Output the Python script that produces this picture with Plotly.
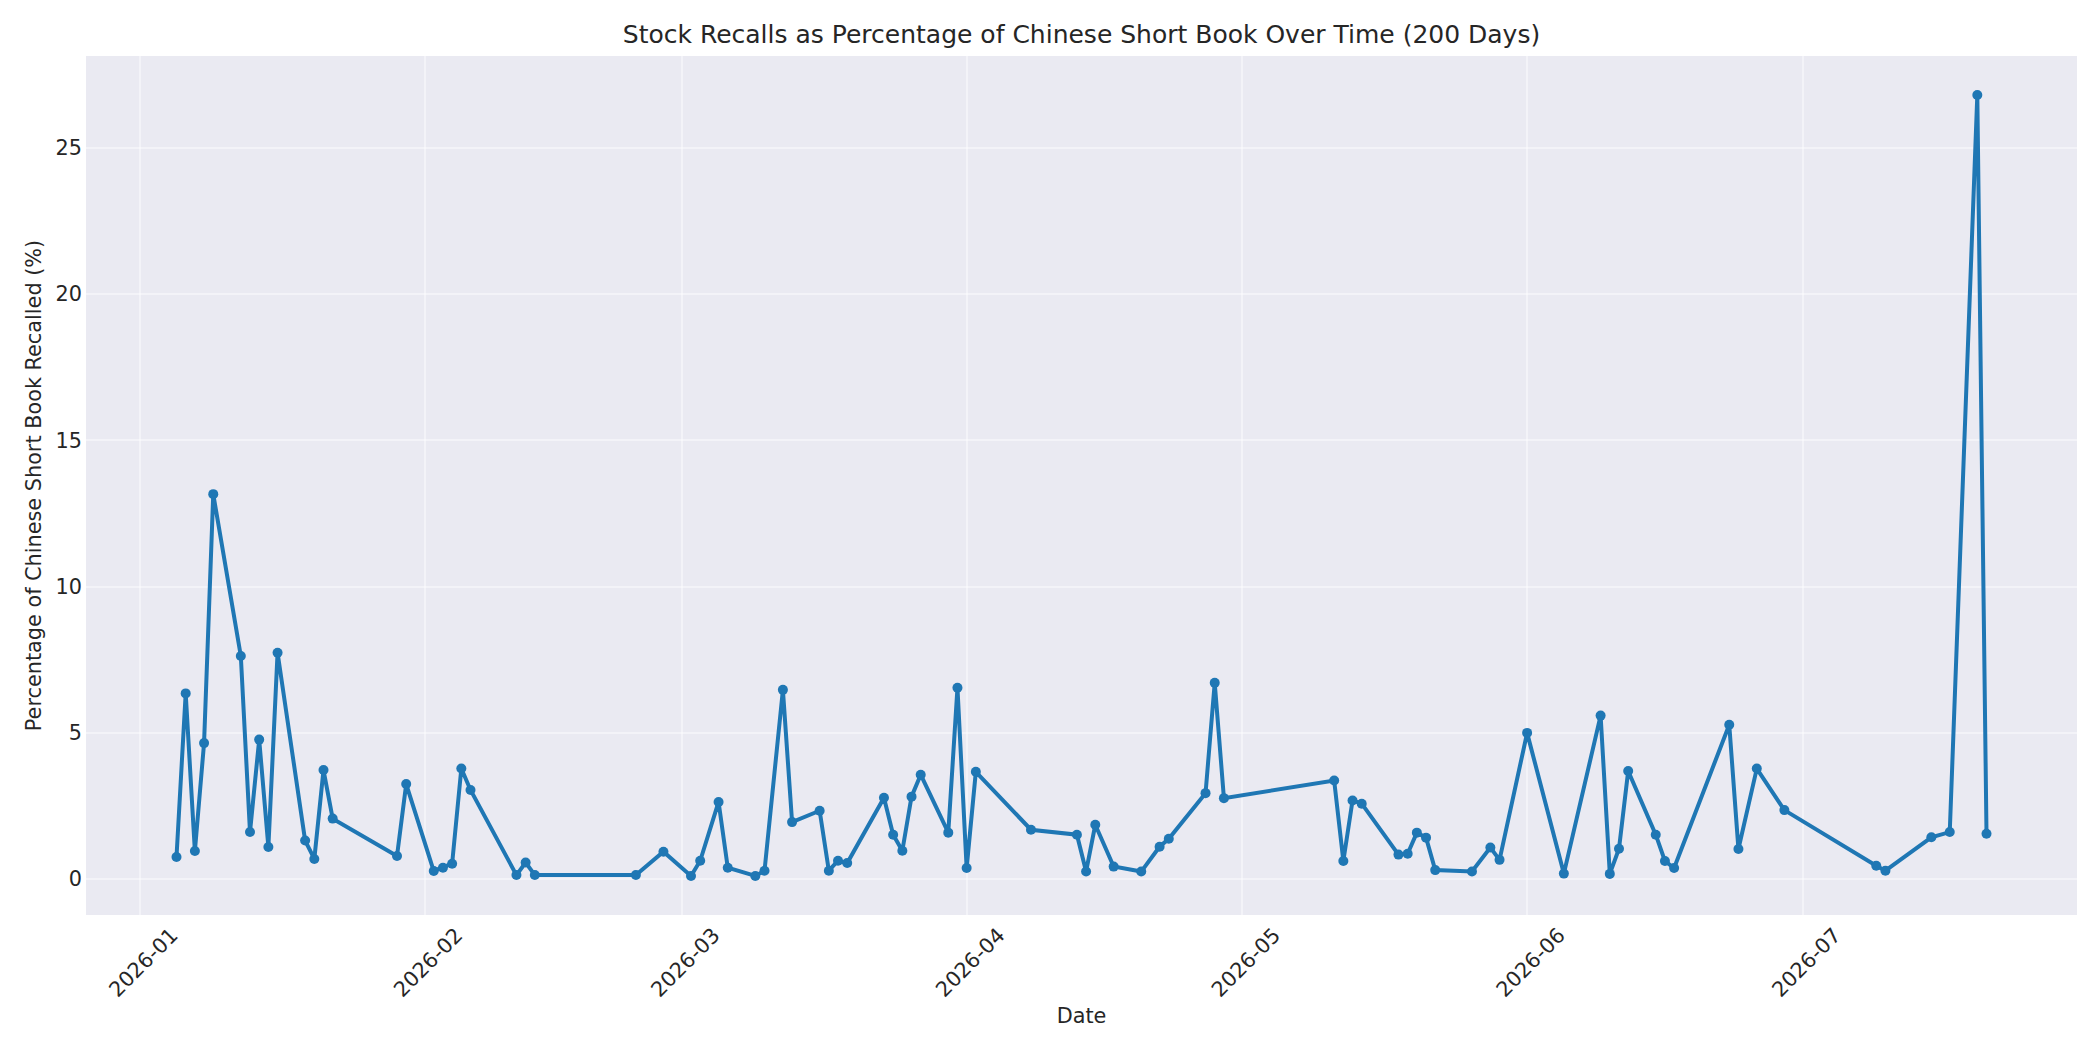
import pandas as pd
import plotly.graph_objects as go

dates = [
    "2026-01-05", "2026-01-06", "2026-01-07", "2026-01-08", "2026-01-09",
    "2026-01-12", "2026-01-13", "2026-01-14", "2026-01-15", "2026-01-16",
    "2026-01-19", "2026-01-20", "2026-01-21", "2026-01-22", "2026-01-29",
    "2026-01-30", "2026-02-02", "2026-02-03", "2026-02-04", "2026-02-05",
    "2026-02-06", "2026-02-11", "2026-02-12", "2026-02-13", "2026-02-24",
    "2026-02-27", "2026-03-02", "2026-03-03", "2026-03-05", "2026-03-06",
    "2026-03-09", "2026-03-10", "2026-03-12", "2026-03-13", "2026-03-16",
    "2026-03-17", "2026-03-18", "2026-03-19", "2026-03-23", "2026-03-24",
    "2026-03-25", "2026-03-26", "2026-03-27", "2026-03-30", "2026-03-31",
    "2026-04-01", "2026-04-02", "2026-04-08", "2026-04-13", "2026-04-14",
    "2026-04-15", "2026-04-17", "2026-04-20", "2026-04-22", "2026-04-23",
    "2026-04-27", "2026-04-28", "2026-04-29", "2026-05-11", "2026-05-12",
    "2026-05-13", "2026-05-14", "2026-05-18", "2026-05-19", "2026-05-20",
    "2026-05-21", "2026-05-22", "2026-05-26", "2026-05-28", "2026-05-29",
    "2026-06-01", "2026-06-05", "2026-06-09", "2026-06-10", "2026-06-11",
    "2026-06-12", "2026-06-15", "2026-06-16", "2026-06-17", "2026-06-23",
    "2026-06-24", "2026-06-26", "2026-06-29", "2026-07-09", "2026-07-10",
    "2026-07-15", "2026-07-17", "2026-07-20", "2026-07-21",
]

recall_pct = [
    0.76, 6.35, 0.96, 4.65, 13.16,
    7.63, 1.61, 4.77, 1.10, 7.74,
    1.32, 0.69, 3.73, 2.07, 0.79,
    3.25, 0.28, 0.39, 0.53, 3.78,
    3.05, 0.14, 0.57, 0.14, 0.14,
    0.94, 0.11, 0.63, 2.64, 0.39,
    0.11, 0.29, 6.47, 1.95, 2.34,
    0.29, 0.63, 0.55, 2.78, 1.52,
    0.97, 2.82, 3.57, 1.59, 6.54,
    0.38, 3.67, 1.69, 1.52, 0.26,
    1.86, 0.43, 0.26, 1.11, 1.38,
    2.94, 6.71, 2.77, 3.37, 0.62,
    2.69, 2.58, 0.84, 0.87, 1.59,
    1.42, 0.31, 0.26, 1.08, 0.66,
    5.00, 0.19, 5.59, 0.18, 1.04,
    3.70, 1.52, 0.62, 0.38, 5.28,
    1.03, 3.78, 2.36, 0.46, 0.29,
    1.43, 1.61, 26.80, 1.55,
]

y_ticks = [0, 5, 10, 15, 20, 25]

title_text = "Stock Recalls as Percentage of Chinese Short Book Over Time (200 Days)"
x_label = "Date"
y_label = "Percentage of Chinese Short Book Recalled (%)"

x = pd.to_datetime(dates)
xspan = x.max() - x.min()
xrange = [x.min() - 0.05 * xspan, x.max() + 0.05 * xspan]
ymin, ymax = min(recall_pct), max(recall_pct)
yspan = ymax - ymin
yrange = [ymin - 0.05 * yspan, ymax + 0.05 * yspan]

TEXT = "#262626"
FONT = "DejaVu Sans"
GRID = "rgba(255,255,255,0.45)"

# page body has an 8px default margin; size the figure so it fills the window
W, H = 2092, 1042

fig = go.Figure()
fig.add_trace(go.Scatter(
    x=x, y=recall_pct, mode="lines+markers",
    line=dict(color="#1f77b4", width=4),
    marker=dict(color="#1f77b4", size=10),
    showlegend=False,
))

fig.update_layout(
    width=W, height=H,
    paper_bgcolor="white", plot_bgcolor="#EAEAF2",
    margin=dict(l=78, r=23, t=48, b=135, autoexpand=False),
    font=dict(family=FONT, color=TEXT, size=20.8),
    title=dict(text=title_text, x=0.5, xref="paper", xanchor="center",
               y=1 - 26.5 / H, yref="container", yanchor="middle",
               font=dict(size=25, color=TEXT, family=FONT)),
    xaxis=dict(
        range=xrange, type="date", tickformat="%Y-%m", dtick="M1",
        tick0="2026-01-01", tickangle=-45, showgrid=True, gridcolor=GRID,
        gridwidth=1.8, zeroline=False, showline=False, ticks="",
        tickfont=dict(size=20.8, color=TEXT, family=FONT),
        ticklabelshift=32, ticklabelstandoff=3,
        title=dict(text=x_label, font=dict(size=20.8, color=TEXT, family=FONT), standoff=7),
        automargin=False,
    ),
    yaxis=dict(
        range=yrange, tickvals=y_ticks, showgrid=True, gridcolor=GRID,
        gridwidth=1.8, zeroline=False, showline=False, ticks="",
        tickfont=dict(size=20.8, color=TEXT, family=FONT),
        ticklabelstandoff=3,
        title=dict(text=y_label, font=dict(size=20.8, color=TEXT, family=FONT), standoff=8),
        automargin=False,
    ),
)

fig.write_html("out.html")
